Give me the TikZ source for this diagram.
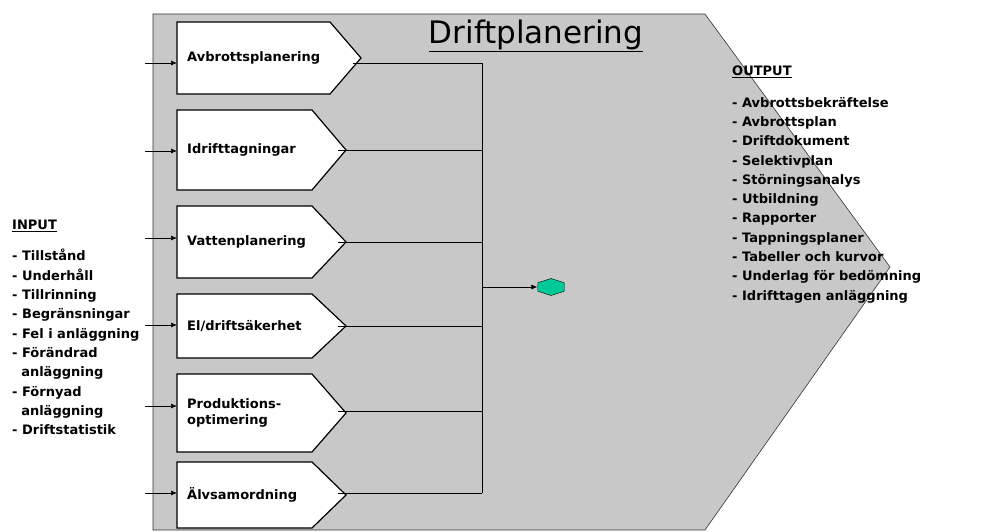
\documentclass[tikz,border=0pt]{standalone}
\usepackage{fontspec}
\setmainfont{DejaVu Sans}
\usetikzlibrary{shapes.geometric,arrows.meta}
\begin{document}
\begin{tikzpicture}[x=1pt,y=-1pt,
 txt/.style={font=\bfseries\fontsize{13}{16}\selectfont,anchor=west,inner sep=0pt},
 lst/.style={font=\bfseries\fontsize{13}{19.3}\selectfont,anchor=north west,align=left,inner sep=0pt},
 pent/.style={draw,fill=white,line width=1.2pt},
 arr/.style={-{Latex[length=6pt,width=5pt]},line width=0.7pt}]
\useasboundingbox (0,0) rectangle (1002,532);
\fill[fill={rgb,255:red,200;green,200;blue,200},draw=black!80,line width=0.6pt] (153,14)--(705,14)--(890,267)--(705,530)--(153,530)--cycle;
\node[font=\fontsize{31}{34}\selectfont,inner sep=0pt] (title) at (536,36) {\underline{Driftplanering}};
\foreach \t/\b/\r/\tp/\ly/\lab [count=\i] in {22/94/330/361/63/Avbrottsplanering,110/190/312/346/150/Idrifttagningar,206/278/312/346/242/Vattenplanering,294/358/312/346/326/{El/driftsäkerhet},374/452/312/346/411/{Produktions-\\optimering},462/528/312/346/493/Älvsamordning}{
 \draw[pent] (177,\t)--(\r,\t)--(\tp,{(\t+\b)/2})--(\r,\b)--(177,\b)--cycle;
 \node[txt,align=left] (b\i) at (187,{(\t+\b)/2}) {\lab};
 \coordinate (o\i) at (\tp-8,\ly);
 \coordinate (j\i) at (482,\ly);
 \draw[line width=0.7pt] (o\i)--(j\i);
}
\foreach \y [count=\i] in {63,151,238,325,406,493}{
 \coordinate (s\i) at (145,\y); \coordinate (e\i) at (177,\y);
 \draw[arr] (s\i)--(e\i);}
\draw[line width=0.7pt] (j1)--(j6);
\node[draw,fill={rgb,255:red,0;green,200;blue,150},regular polygon,regular polygon sides=6,shape border rotate=90,minimum size=17pt,inner sep=0pt,xscale=1.8] (hex) at (551,287) {};
\coordinate (jm) at (482,287);
\draw[arr] (jm)--(hex.west);
\node[lst] (in) at (12,220) {\underline{INPUT}\\[12pt]- Tillstånd\\- Underhåll\\- Tillrinning\\- Begränsningar\\- Fel i anläggning\\- Förändrad\\\ \ anläggning\\- Förnyad\\\ \ anläggning\\- Driftstatistik};
\node[lst] (out) at (732,66) {\underline{OUTPUT}\\[12pt]- Avbrottsbekräftelse\\- Avbrottsplan\\- Driftdokument\\- Selektivplan\\- Störningsanalys\\- Utbildning\\- Rapporter\\- Tappningsplaner\\- Tabeller och kurvor\\- Underlag för bedömning\\- Idrifttagen anläggning};
\end{tikzpicture}
\end{document}
